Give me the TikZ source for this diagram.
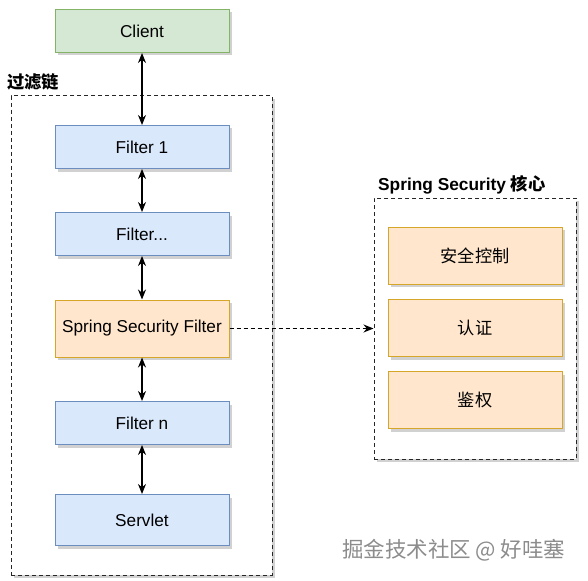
\documentclass[tikz,border=0pt]{standalone}
\usepackage{fontspec}
\setmainfont{Liberation Sans}
\newfontfamily\cjk{Noto Sans CJK SC}
\usetikzlibrary{arrows.meta,shadows,positioning}
\definecolor{clientfill}{HTML}{D5E8D4}
\definecolor{clientdraw}{HTML}{82B366}
\definecolor{filterfill}{HTML}{DAE8FC}
\definecolor{filterdraw}{HTML}{6C8EBF}
\definecolor{corefill}{HTML}{FFE6CC}
\definecolor{coredraw}{HTML}{D6A62A}
\tikzstyle{boxshadow} = [drop shadow={shadow xshift=3pt, shadow yshift=-3pt, fill=black, opacity=0.18}]
\tikzstyle{filterbox} = [draw=filterdraw, fill=filterfill, line width=1pt, rectangle,
    minimum width=174pt, minimum height=43pt, font=\fontsize{17.2pt}{20pt}\selectfont, boxshadow]
\tikzstyle{clientbox} = [filterbox, draw=clientdraw, fill=clientfill]
\tikzstyle{corebox} = [filterbox, draw=coredraw, fill=corefill, minimum height=57pt]
\tikzstyle{groupbox} = [draw=black!85, line width=1pt, dash pattern=on 4pt off 3pt, rectangle, fill=white, boxshadow]
\tikzstyle{grouptitle} = [font=\bfseries\fontsize{17.3pt}{20pt}\selectfont, inner sep=0pt, anchor=west]
\tikzstyle{link} = [{Stealth[length=10pt,width=8pt]}-{Stealth[length=10pt,width=8pt]}, line width=1.2pt]

\begin{document}
\begin{tikzpicture}[x=1pt, y=-1pt]
    \useasboundingbox (0,0) rectangle (588,580);
    \node [groupbox, minimum width=261pt, minimum height=479pt] (chain) at (141.5,335.5) {};
    \node [groupbox, minimum width=202pt, minimum height=261pt] (core) at (475,328.5) {};
    \node [grouptitle] (chaintitle) at (7,82) {\cjk\bfseries 过滤链};
    \node [grouptitle] (coretitle) at (378,185) {Spring Security {\cjk\bfseries 核心}};

    \node [clientbox] (client) at (142,31) {Client};
    \node [filterbox] (filter1) at (142,147) {Filter 1};
    \node [filterbox] (filterdots) at (142,234) {Filter...};
    \node [corebox] (ssfilter) at (142,328.5) {Spring Security Filter};
    \node [filterbox] (filtern) at (142,423) {Filter n};
    \node [filterbox, minimum height=51pt] (servlet) at (142,520) {Servlet};

    \node [corebox] (control) at (475,255.5) {\cjk 安全控制};
    \node [corebox] (authn) at (475,328) {\cjk 认证};
    \node [corebox] (authz) at (475,400) {\cjk 鉴权};

    \draw [link] (client) -- (filter1);
    \draw [link] (filter1) -- (filterdots);
    \draw [link] (filterdots) -- (ssfilter);
    \draw [link] (ssfilter) -- (filtern);
    \draw [link] (filtern) -- (servlet);
    \draw [-{Stealth[length=10pt,width=8pt]}, line width=1.2pt, dash pattern=on 4pt off 3pt] (ssfilter) -- (core.west);

    \node [text=black!45, font=\cjk\fontsize{21.5pt}{24pt}\selectfont, anchor=east] (mark) at (569,550) {掘金技术社区 @ 好哇塞};
\end{tikzpicture}
\end{document}
